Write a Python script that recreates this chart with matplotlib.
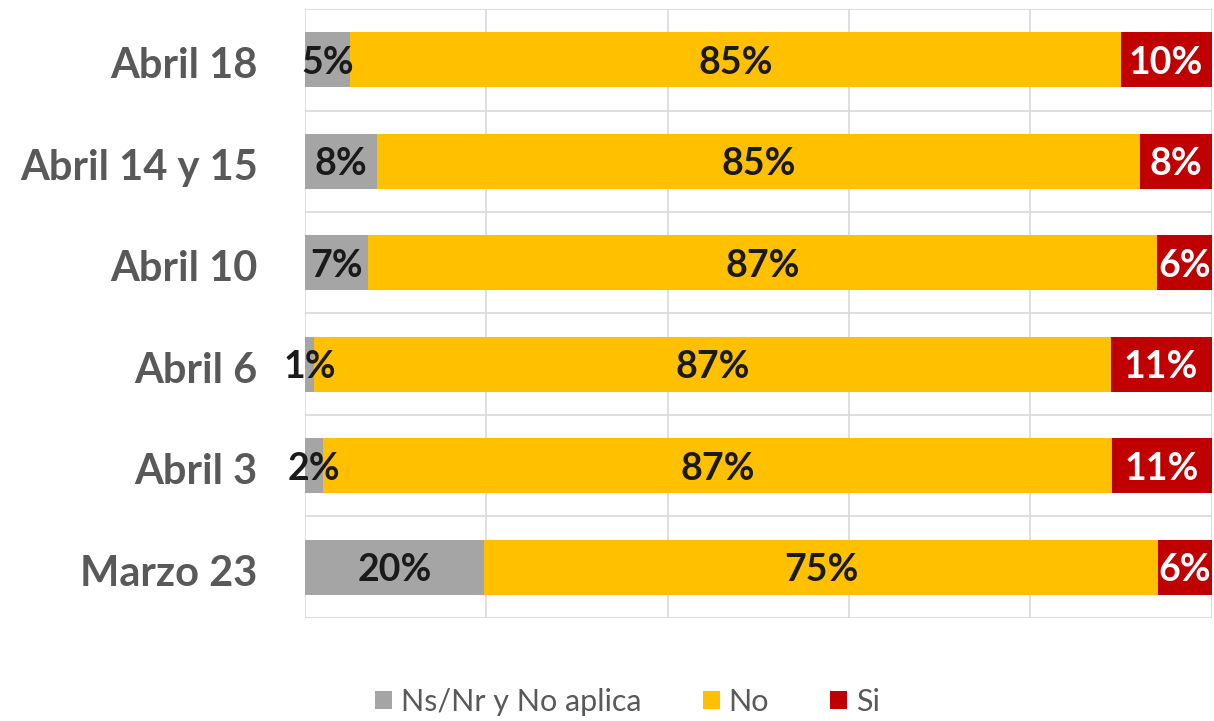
import numpy as np
import matplotlib
matplotlib.use("Agg")
import matplotlib.pyplot as plt

plt.rcParams['font.family'] = ['Lato', 'DejaVu Sans']

categorias = ['Abril 18', 'Abril 14 y 15', 'Abril 10', 'Abril 6', 'Abril 3', 'Marzo 23']
ns_nr = [5, 8, 7, 1, 2, 20]
no = [85, 85, 87, 87, 87, 75]
si = [10, 8, 6, 11, 11, 6]

series = [('Ns/Nr y No aplica', ns_nr, '#a5a5a5', '#1a1a1a'),
          ('No', no, '#ffc000', '#1a1a1a'),
          ('Si', si, '#c00000', 'white')]

tot = np.array(ns_nr) + np.array(no) + np.array(si)
y = np.arange(len(categorias))

fig = plt.figure(figsize=(12.14, 7.21), dpi=100)
ax = fig.add_axes([0.2512, 0.1429, 0.7468, 0.8446])

left = np.zeros(len(categorias))
for nombre, vals, col, tcol in series:
    w = np.array(vals) / tot * 100
    bars = ax.barh(y, w, left=left, height=0.54, color=col, label=nombre, zorder=3)
    for i, b in enumerate(bars):
        ax.text(left[i] + w[i] / 2, y[i] + 0.03, '%d%%' % vals[i], ha='center', va='center',
                fontsize=27, fontweight='bold', color=tcol, zorder=4)
    left += w

ax.set_xlim(0, 100)
ax.set_ylim(len(categorias) - 0.5, -0.5)
ax.set_xticks(np.arange(0, 101, 20))
ax.set_xticklabels([])
ax.set_yticks(y + 0.03)
ax.set_yticklabels(categorias, fontsize=30, fontweight='bold', color='#595959')
ax.set_yticks(np.arange(-0.5, len(categorias), 1), minor=True)
ax.tick_params(axis='both', which='both', length=0)
ax.tick_params(axis='y', pad=34)
ax.grid(axis='x', which='major', color='#d9d9d9', lw=1.2, zorder=0)
ax.grid(axis='y', which='minor', color='#d9d9d9', lw=1.2, zorder=0)
for s in ax.spines.values():
    s.set_visible(False)

fig.legend(loc='center', bbox_to_anchor=(0.517, 0.027), ncol=3, frameon=False,
           fontsize=22, labelcolor='#595959', handlelength=0.55, handleheight=0.55,
           handletextpad=0.3, columnspacing=2.0)

fig.savefig('out.png', dpi=100)
